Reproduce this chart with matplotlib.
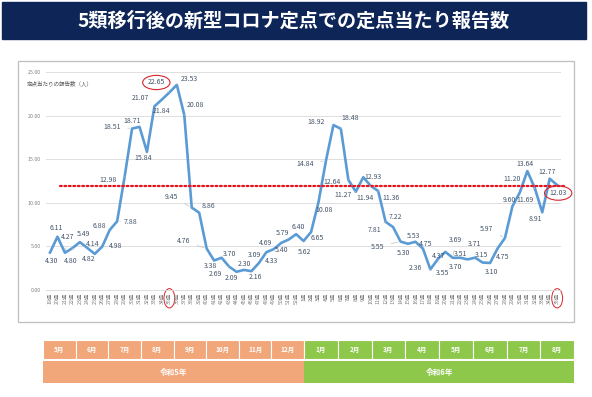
import matplotlib
matplotlib.use('Agg')
import matplotlib.pyplot as plt
from matplotlib.patches import Rectangle

plt.rcParams['font.family'] = ['Noto Sans CJK JP', 'DejaVu Sans']

# 週（令和5年19週〜令和6年35週）
weeks_r5 = list(range(19, 53))
weeks_r6 = list(range(1, 36))

# 定点当たり報告数
values_r5 = [4.30, 6.11, 4.27, 4.80, 5.49, 4.82, 4.14, 4.98, 6.88, 7.88,
             12.98, 18.51, 18.71, 15.84, 21.07, 21.84, 22.65, 23.53, 20.08, 9.45,
             8.86, 4.76, 3.38, 3.70, 2.69, 2.09, 2.30, 2.16, 3.09, 4.33,
             4.69, 5.40, 5.79, 6.40]
values_r6 = [5.62, 6.65, 10.08, 14.84, 18.92, 18.48, 12.64, 11.27, 12.93, 11.94,
             11.36, 7.81, 7.22, 5.55, 5.30, 5.53, 4.75, 2.36, 3.55, 4.37,
             3.69, 3.70, 3.51, 3.71, 3.15, 3.10, 4.75, 5.97, 9.60, 11.20,
             13.64, 11.69, 8.91, 12.77, 12.03]

ref_level = 11.9          # 赤点線
circled_week = 35         # 赤丸の週

months_r5 = ['5月', '6月', '7月', '8月', '9月', '10月', '11月', '12月']
months_r6 = ['1月', '2月', '3月', '4月', '5月', '6月', '7月', '8月']
years = ['令和5年', '令和6年']

title = '5類移行後の新型コロナ定点での定点当たり報告数'
ytitle = '定点当たりの報告数（人）'

# データラベルの位置ずらし（ピクセル、右・下が正）
label_offsets = [(2, 8), (-1, -9), (3, -16), (-2, 13), (4, -8), (1, 11), (-2, -10),
                 (13, -1), (-10, -4), (13, 1), (-17, 3), (-20, -2), (-7, -6), (-4, 6),
                 (-14, -8), (0, 11), (-13, -10), (12, -6), (11, -10), (-20, -11),
                 (9, -7), (-23, -7), (-4, 5), (8, -4), (-14, 7), (-5, 6), (0, -6),
                 (4, 6), (-4, -8), (5, 9), (-8, -6), (0, 7), (-6, -7), (2, -7),
                 (1, 11), (6, 6), (6, 8), (-21, 3), (-17, -3), (9, -11), (-16, 2),
                 (-13, 3), (10, 0), (-6, 12), (13, 7), (-11, 8), (2, -10), (-23, 5),
                 (-5, 9), (-2, -6), (3, -5), (-15, -1), (5, 14), (-7, 4), (3, -18),
                 (-5, 9), (-7, -5), (-1, -14), (-1, -8), (1, 9), (5, 8), (-18, -9),
                 (-3, -6), (-8, -13), (-2, -7), (-10, 12), (-7, 7), (-3, -7), (1, 8)]

W, H = 592, 397
navy = '#0D2657'
blue = '#5B9BD5'
red = '#D7262E'
orange = '#F2A77A'
green = '#8DC84B'
txt = '#44546A'

fig = plt.figure(figsize=(W / 100, H / 100), dpi=100)
fig.patch.set_facecolor('white')

# 背景（バナー、枠、月の帯）
bg = fig.add_axes([0, 0, 1, 1])
bg.set_xlim(0, W)
bg.set_ylim(H, 0)
bg.axis('off')

bg.add_patch(Rectangle((2, 2), 584, 37, color=navy))
bg.text(294, 21, title, color='white', fontsize=13.8, fontweight='bold',
        ha='center', va='center')
bg.add_patch(Rectangle((18, 61), 556, 261, fill=False, ec='#BFBFBF', lw=0.9))

x0, xmid, x1 = 43, 304, 574
w5 = (xmid - x0) / len(months_r5)
w6 = (x1 - xmid) / len(months_r6)
for k, m in enumerate(months_r5):
    bg.add_patch(Rectangle((x0 + k * w5, 340), w5, 19, fc=orange, ec='white', lw=0.8))
    bg.text(x0 + (k + 0.5) * w5, 349.5, m, color='white', fontsize=4.7,
            fontweight='bold', ha='center', va='center')
for k, m in enumerate(months_r6):
    bg.add_patch(Rectangle((xmid + k * w6, 340), w6, 19, fc=green, ec='white', lw=0.8))
    bg.text(xmid + (k + 0.5) * w6, 349.5, m, color='white', fontsize=4.7,
            fontweight='bold', ha='center', va='center')
bg.add_patch(Rectangle((x0, 361), xmid - x0, 22, fc=orange, ec='none'))
bg.add_patch(Rectangle((xmid, 361), x1 - xmid, 22, fc=green, ec='none'))
bg.text((x0 + xmid) / 2, 372, years[0], color='white', fontsize=5.5,
        fontweight='bold', ha='center', va='center')
bg.text((xmid + x1) / 2, 372, years[1], color='white', fontsize=5.5,
        fontweight='bold', ha='center', va='center')

# グラフ本体
ax = fig.add_axes([46.3 / W, 1 - 290 / H, 514.6 / W, 218 / H])
ax.set_facecolor('none')

values = values_r5 + values_r6
week_labels = [f'{w}週' for w in weeks_r5] + [f'{w}週' for w in weeks_r6]
x = list(range(len(values)))

ax.plot(x, values, color=blue, lw=1.9, solid_joinstyle='round', zorder=3)
ax.axhline(ref_level, xmin=0.027, xmax=1.006, color='#E8141B', lw=1.6,
           ls=(0, (0.8, 1.2)), dash_capstyle='round', clip_on=False, zorder=4)

ax.set_xlim(-0.5, len(values) - 0.5)
ax.set_ylim(0, 25)
ax.set_yticks([0, 5, 10, 15, 20, 25])
ax.set_yticklabels([f'{v:.2f}' for v in [0, 5, 10, 15, 20, 25]])
ax.set_xticks(x)
ax.set_xticklabels(week_labels, rotation=90)
ax.tick_params(axis='both', length=0, colors='#7F7F7F', labelsize=3.8)
ax.tick_params(axis='y', pad=4)
ax.tick_params(axis='x', pad=2)
ax.grid(axis='y', color='#D9D9D9', lw=0.6)
ax.set_axisbelow(True)
for s in ['top', 'right', 'left']:
    ax.spines[s].set_visible(False)
ax.spines['bottom'].set_color('#D9D9D9')
ax.spines['bottom'].set_linewidth(0.6)

fig.text(27 / W, 1 - 83 / H, ytitle, fontsize=4, color='#595959',
         ha='left', va='center')

# データラベル
circled = [weeks_r5.index(circled_week), len(weeks_r5) + weeks_r6.index(circled_week)]
for i, v in enumerate(values):
    dx, dy = label_offsets[i]
    kw = {}
    if dx * dx + dy * dy > 150:
        kw['arrowprops'] = dict(arrowstyle='-', color='#BFBFBF', lw=0.5,
                                shrinkA=3, shrinkB=2)
    t = ax.annotate(f'{v:.2f}', (i, v), xytext=(dx * 0.72, -dy * 0.72),
                    textcoords='offset points', ha='center', va='center',
                    fontsize=5, color=txt, zorder=5, **kw)
    if i in circled:
        t.set_bbox(dict(boxstyle='ellipse,pad=0.15', fc='none', ec=red, lw=0.8))

for i in circled:
    ax.get_xticklabels()[i].set_bbox(dict(boxstyle='ellipse,pad=0.25', fc='none',
                                          ec=red, lw=0.7))

fig.savefig('out.png', dpi=100)
